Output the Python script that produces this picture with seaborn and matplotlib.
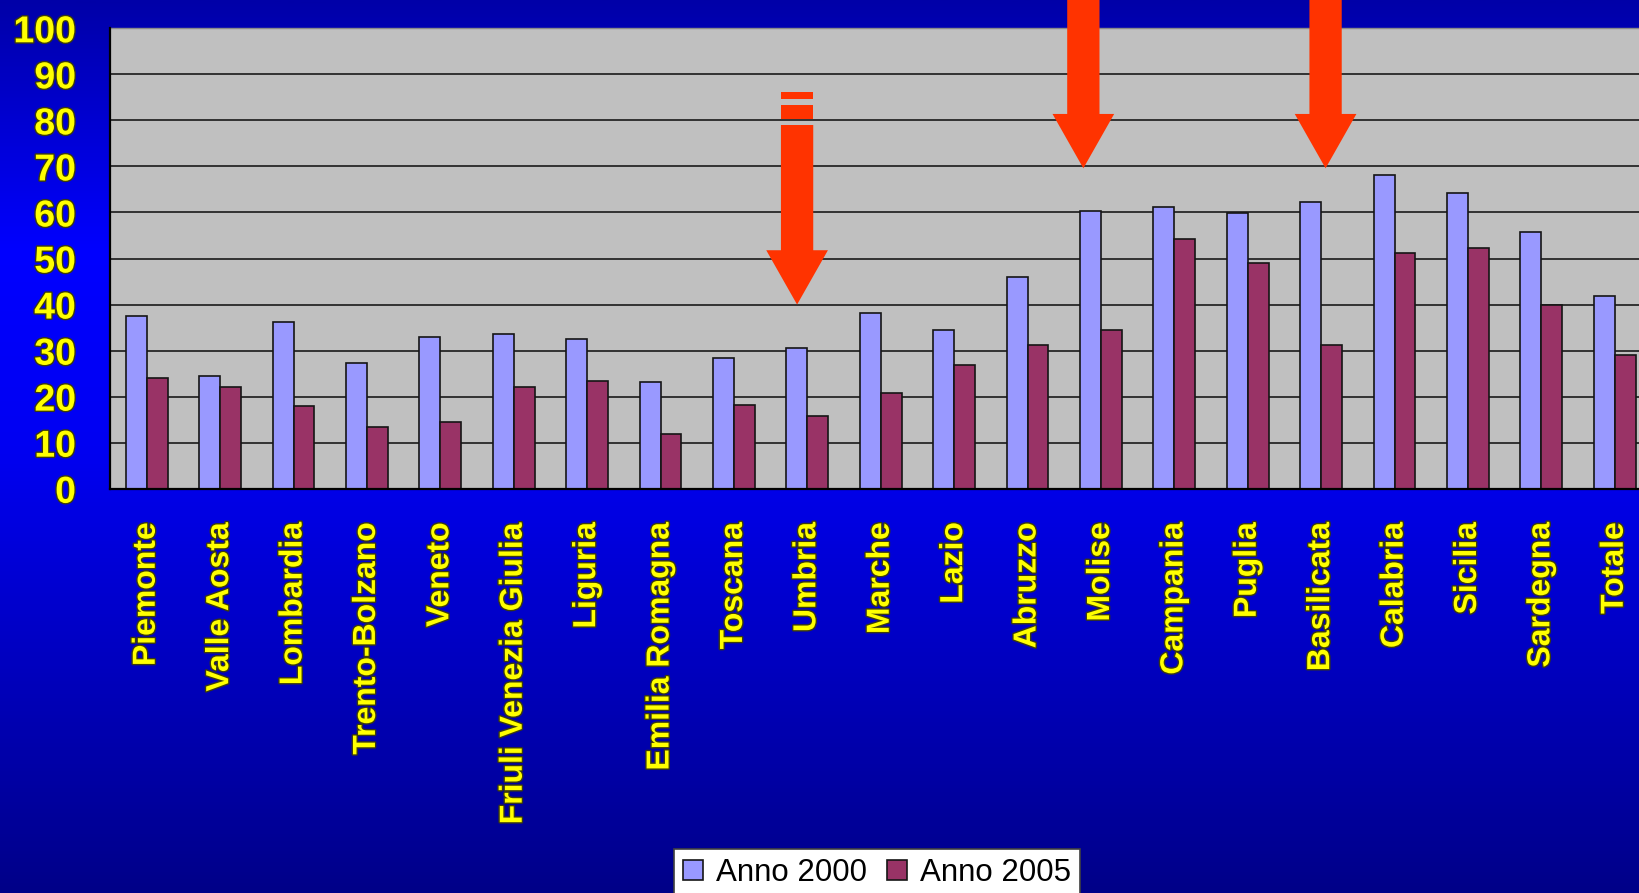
import numpy as np
import pandas as pd
import matplotlib
matplotlib.use("Agg")
import matplotlib.pyplot as plt
from matplotlib.colors import LinearSegmentedColormap
from matplotlib.patches import FancyArrow, Rectangle
import matplotlib.patheffects as pe
import seaborn as sns

# ---- data -------------------------------------------------------------
regioni = ["Piemonte", "Valle Aosta", "Lombardia", "Trento-Bolzano", "Veneto",
           "Friuli Venezia Giulia", "Liguria", "Emilia Romagna", "Toscana",
           "Umbria", "Marche", "Lazio", "Abruzzo", "Molise", "Campania",
           "Puglia", "Basilicata", "Calabria", "Sicilia", "Sardegna", "Totale"]
anno_2000 = [37.6, 24.5, 36.3, 27.4, 32.9, 33.7, 32.6, 23.2, 28.5, 30.6, 38.2,
             34.5, 46.0, 60.3, 61.1, 59.8, 62.3, 68.1, 64.2, 55.7, 41.8]
anno_2005 = [24.0, 22.1, 18.0, 13.5, 14.6, 22.2, 23.5, 11.8, 18.2, 15.9, 20.9,
             26.8, 31.3, 34.5, 54.2, 49.0, 31.2, 51.2, 52.3, 39.8, 29.0]
serie = ["Anno 2000", "Anno 2005"]
colori = ["#9999FF", "#993366"]
y_ticks = list(range(0, 101, 10))

# highlight arrows: horizontal position (category units), tip value, top of shaft
frecce_x = [8.86, 12.76, 16.06]
frecce_punta = [40.0, 69.6, 69.6]
frecce_cima = [79.0, 106.3, 106.3]
# small dashes above the first arrow
trattini = [(80.2, 83.3), (84.6, 86.2)]

df = pd.DataFrame({
    "Regione": regioni * 2,
    "Valore": anno_2000 + anno_2005,
    "Anno": [serie[0]] * len(regioni) + [serie[1]] * len(regioni),
})

# ---- figure -----------------------------------------------------------
sns.set_style("white")
plt.rcParams["font.family"] = ["Liberation Sans", "DejaVu Sans"]

fig = plt.figure(figsize=(16.4, 8.93), dpi=100)

# vertical blue gradient background
bg = fig.add_axes([0, 0, 1, 1], zorder=-10)
cmap = LinearSegmentedColormap.from_list(
    "sfondo",
    [(0.0, "#0000A8"), (0.28, "#0000FF"), (0.5, "#0000F2"),
     (0.75, "#0000BE"), (1.0, "#000088")])
bg.imshow(np.linspace(0, 1, 512).reshape(-1, 1), cmap=cmap, aspect="auto",
          extent=[0, 1, 0, 1], origin="upper")
bg.set_axis_off()

ax = fig.add_axes([0.0671, 0.4527, 0.9399, 0.5156])
ax.set_facecolor("#C0C0C0")

sns.barplot(data=df, x="Regione", y="Valore", hue="Anno", order=regioni,
            hue_order=serie, palette=colori, width=0.57, gap=0,
            edgecolor="#151515", linewidth=1.2, saturation=1, ax=ax, zorder=3)

ax.set_xlim(-0.5, len(regioni) - 0.5)
ax.set_ylim(0, 100)
ax.set_yticks(y_ticks)
ax.set_xlabel("")
ax.set_ylabel("")

ax.grid(axis="y", color="#1a1a1a", linewidth=1.2, zorder=0)
ax.set_axisbelow(True)

for s in ["left", "bottom"]:
    ax.spines[s].set_color("black")
    ax.spines[s].set_linewidth(1.6)
    ax.spines[s].set_zorder(5)
ax.spines["top"].set_color("#8a8a8a")
ax.spines["top"].set_linewidth(1.0)
ax.spines["right"].set_visible(False)

outline = [pe.withStroke(linewidth=2.0, foreground="#3a3a10")]

ax.tick_params(axis="y", direction="out", length=9.5, width=1.2, color="black",
               pad=15, labelsize=27, labelcolor="#FFFF00")
for t in ax.get_yticklabels():
    t.set_fontweight("bold")
    t.set_path_effects(outline)

# category labels under the groups, tick marks between groups
ax.set_xticks(range(len(regioni)))
ax.set_xticklabels(regioni, rotation=90, fontsize=23, fontweight="bold",
                   color="#FFFF00")
ax.set_xticks(np.arange(-0.5, len(regioni), 1.0), minor=True)
ax.tick_params(axis="x", which="major", length=0, pad=24)
ax.tick_params(axis="x", which="minor", direction="out", length=6.5,
               width=1.2, color="black")
for t in ax.get_xticklabels():
    t.set_path_effects(outline)

# red highlight arrows
for x, punta, cima in zip(frecce_x, frecce_punta, frecce_cima):
    ax.add_patch(FancyArrow(x, cima, 0, punta - cima, width=0.44,
                            head_width=0.84, head_length=11.8,
                            length_includes_head=True, color="#FF3300",
                            linewidth=0, clip_on=False, zorder=6))
for y0, y1 in trattini:
    ax.add_patch(Rectangle((frecce_x[0] - 0.22, y0), 0.44, y1 - y0,
                           color="#FF3300", linewidth=0, clip_on=False,
                           zorder=6))

# legend at the bottom of the slide
handles, labels = ax.get_legend_handles_labels()
if ax.get_legend() is not None:
    ax.get_legend().remove()
leg = fig.legend(handles, labels, loc="upper center",
                 bbox_to_anchor=(0.5348, 0.0493), ncol=2, fontsize=22.5,
                 frameon=True, fancybox=False, handlelength=0.62,
                 handleheight=0.62, handletextpad=0.42, columnspacing=0.65,
                 borderpad=0.3, borderaxespad=0)
leg.get_frame().set_facecolor("white")
leg.get_frame().set_edgecolor("#404040")
leg.get_frame().set_linewidth(1.2)
leg.get_frame().set_alpha(1)
for txt in leg.get_texts():
    txt.set_color("black")

fig.savefig("out.png", dpi=100)
